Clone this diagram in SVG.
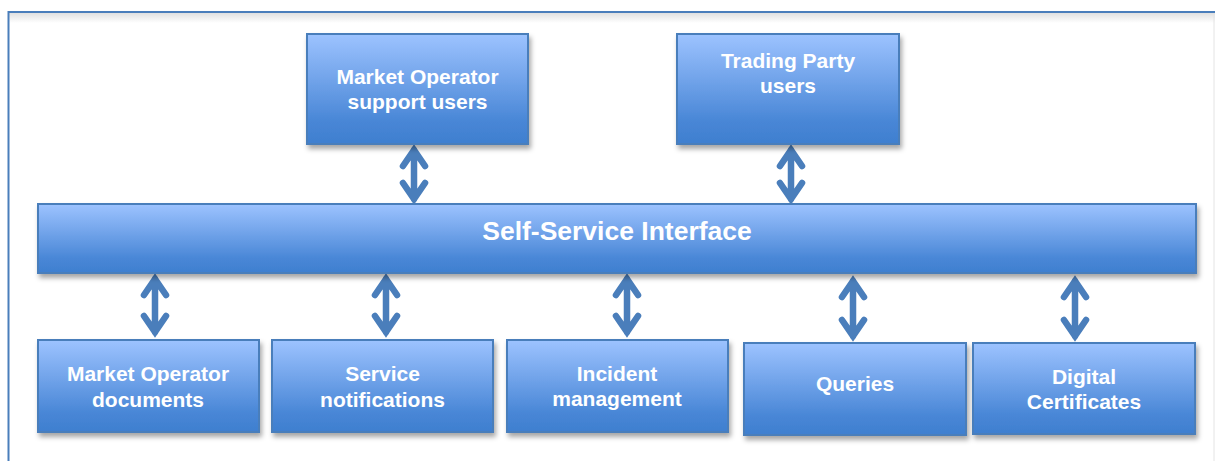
<svg xmlns="http://www.w3.org/2000/svg" width="1215" height="461" viewBox="0 0 1215 461">
<defs>
<linearGradient id="g" x1="0" y1="0" x2="0" y2="1">
<stop offset="0" stop-color="#9dc3ff"/>
<stop offset="0.8" stop-color="#4886d6"/>
<stop offset="1" stop-color="#3f7fcf"/>
</linearGradient>
<linearGradient id="fs" x1="0" y1="0" x2="0" y2="1">
<stop offset="0" stop-color="#000" stop-opacity="0.12"/>
<stop offset="1" stop-color="#000" stop-opacity="0"/>
</linearGradient>
<filter id="sh" x="-10%" y="-10%" width="120%" height="130%">
<feDropShadow dx="2" dy="4" stdDeviation="2.5" flood-color="#000" flood-opacity="0.35"/>
</filter>
</defs>
<style>
.box{fill:url(#g);stroke:#4a7ebb;stroke-width:2;filter:url(#sh)}
.t{font-family:"Liberation Sans",Arial,sans-serif;font-weight:bold;fill:#fff;text-anchor:middle;font-size:21px}
.big{font-size:26.5px}
.arr{fill:none;stroke:#4a7ebb;stroke-width:6.5;stroke-linecap:round;stroke-linejoin:miter}
</style>
<rect width="1215" height="461" fill="#fff"/>
<g id="frame">
<rect x="9" y="13" width="1210" height="10" fill="url(#fs)"/>
<rect x="8.5" y="12" width="1215" height="470" fill="none" stroke="#4a7ebb" stroke-width="2"/>
<line x1="1214" y1="14" x2="1214" y2="461" stroke="#e4e4e4" stroke-width="1"/>
</g>
<g id="connectors">
<path class="arr" d="M414,150 V199 M403,166 L414,150 L425,166 M403,183 L414,199 L425,183"/>
<path class="arr" d="M791,150 V199 M780,166 L791,150 L802,166 M780,183 L791,199 L802,183"/>
<path class="arr" d="M155,279 V332 M144,295 L155,279 L166,295 M144,316 L155,332 L166,316"/>
<path class="arr" d="M386,279 V332 M375,295 L386,279 L397,295 M375,316 L386,332 L397,316"/>
<path class="arr" d="M627,279 V332 M616,295 L627,279 L638,295 M616,316 L627,332 L638,316"/>
<path class="arr" d="M853,281 V336 M842,297 L853,281 L864,297 M842,320 L853,336 L864,320"/>
<path class="arr" d="M1075,281 V336 M1064,297 L1075,281 L1086,297 M1064,320 L1075,336 L1086,320"/>
</g>
<g id="mo-support">
<rect class="box" x="307" y="34" width="221" height="110"/>
<text class="t" x="417.5" y="84">Market Operator</text>
<text class="t" x="417.5" y="109">support users</text>
</g>
<g id="trading-party">
<rect class="box" x="677" y="34" width="222" height="110"/>
<text class="t" x="788" y="68">Trading Party</text>
<text class="t" x="788" y="93">users</text>
</g>
<g id="ssi">
<rect class="box" x="38" y="204" width="1158" height="69"/>
<text class="t big" x="617" y="240">Self-Service Interface</text>
</g>
<g id="mo-docs">
<rect class="box" x="38" y="340" width="221" height="92"/>
<text class="t" x="148" y="381">Market Operator</text>
<text class="t" x="148" y="407">documents</text>
</g>
<g id="service-notifications">
<rect class="box" x="272" y="340" width="221" height="92"/>
<text class="t" x="382.5" y="381">Service</text>
<text class="t" x="382.5" y="407">notifications</text>
</g>
<g id="incident">
<rect class="box" x="507" y="340" width="221" height="92"/>
<text class="t" x="617" y="381">Incident</text>
<text class="t" x="617" y="406">management</text>
</g>
<g id="queries">
<rect class="box" x="744" y="343" width="222" height="92"/>
<text class="t" x="855" y="391">Queries</text>
</g>
<g id="digital-certificates">
<rect class="box" x="973" y="343" width="222" height="91"/>
<text class="t" x="1084" y="384">Digital</text>
<text class="t" x="1084" y="409">Certificates</text>
</g>
</svg>
